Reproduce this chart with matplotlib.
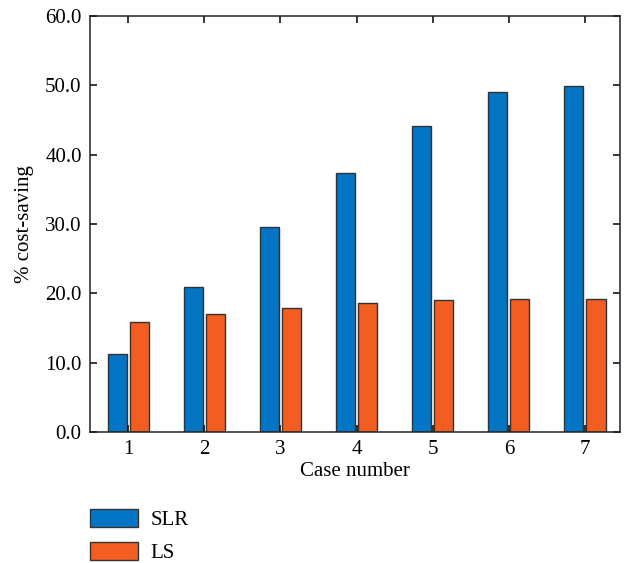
import numpy as np
import matplotlib.pyplot as plt
from matplotlib.patches import Patch

cases = [1, 2, 3, 4, 5, 6, 7]
slr = [11.2, 20.9, 29.6, 37.3, 44.1, 49.1, 49.9]
ls = [15.8, 17.0, 17.9, 18.6, 19.0, 19.2, 19.2]

plt.rcParams['font.family'] = ['Liberation Serif', 'DejaVu Serif']
plt.rcParams['font.size'] = 15

blue = '#0474C4'
orange = '#F25E22'

fig = plt.figure(figsize=(6.28, 5.63), dpi=100)
ax = fig.add_axes([90 / 628, 1 - 432 / 563, 530 / 628, 416 / 563])

x = np.array(cases)
w = 0.25
ax.bar(x - 0.145, slr, w, color=blue, edgecolor='#333333', linewidth=1)
ax.bar(x + 0.145, ls, w, color=orange, edgecolor='#333333', linewidth=1)

ax.set_xlim(0.5, 7.46)
ax.set_ylim(0, 60)
ax.set_xticks(cases)
ax.set_yticks(np.arange(0, 61, 10))
ax.set_yticklabels([f'{v:.1f}' for v in np.arange(0, 61, 10)])
ax.tick_params(direction='in', top=True, right=True, length=5, width=1.1,
               labelsize=15, pad=6)
for s in ax.spines.values():
    s.set_linewidth(1.1)
    s.set_color('#222222')
ax.set_xlabel('Case number', labelpad=2)
ax.set_ylabel('% cost-saving', labelpad=8)

handles = [Patch(facecolor=blue, edgecolor='#333333', label='SLR'),
           Patch(facecolor=orange, edgecolor='#333333', label='LS')]
fig.legend(handles=handles, loc='upper left', bbox_to_anchor=(82 / 628, 1 - 501 / 563),
           frameon=False, handlelength=2.3, handleheight=0.95, labelspacing=0.55,
           handletextpad=0.6, fontsize=15, borderaxespad=0)

fig.savefig('out.png', dpi=100)
